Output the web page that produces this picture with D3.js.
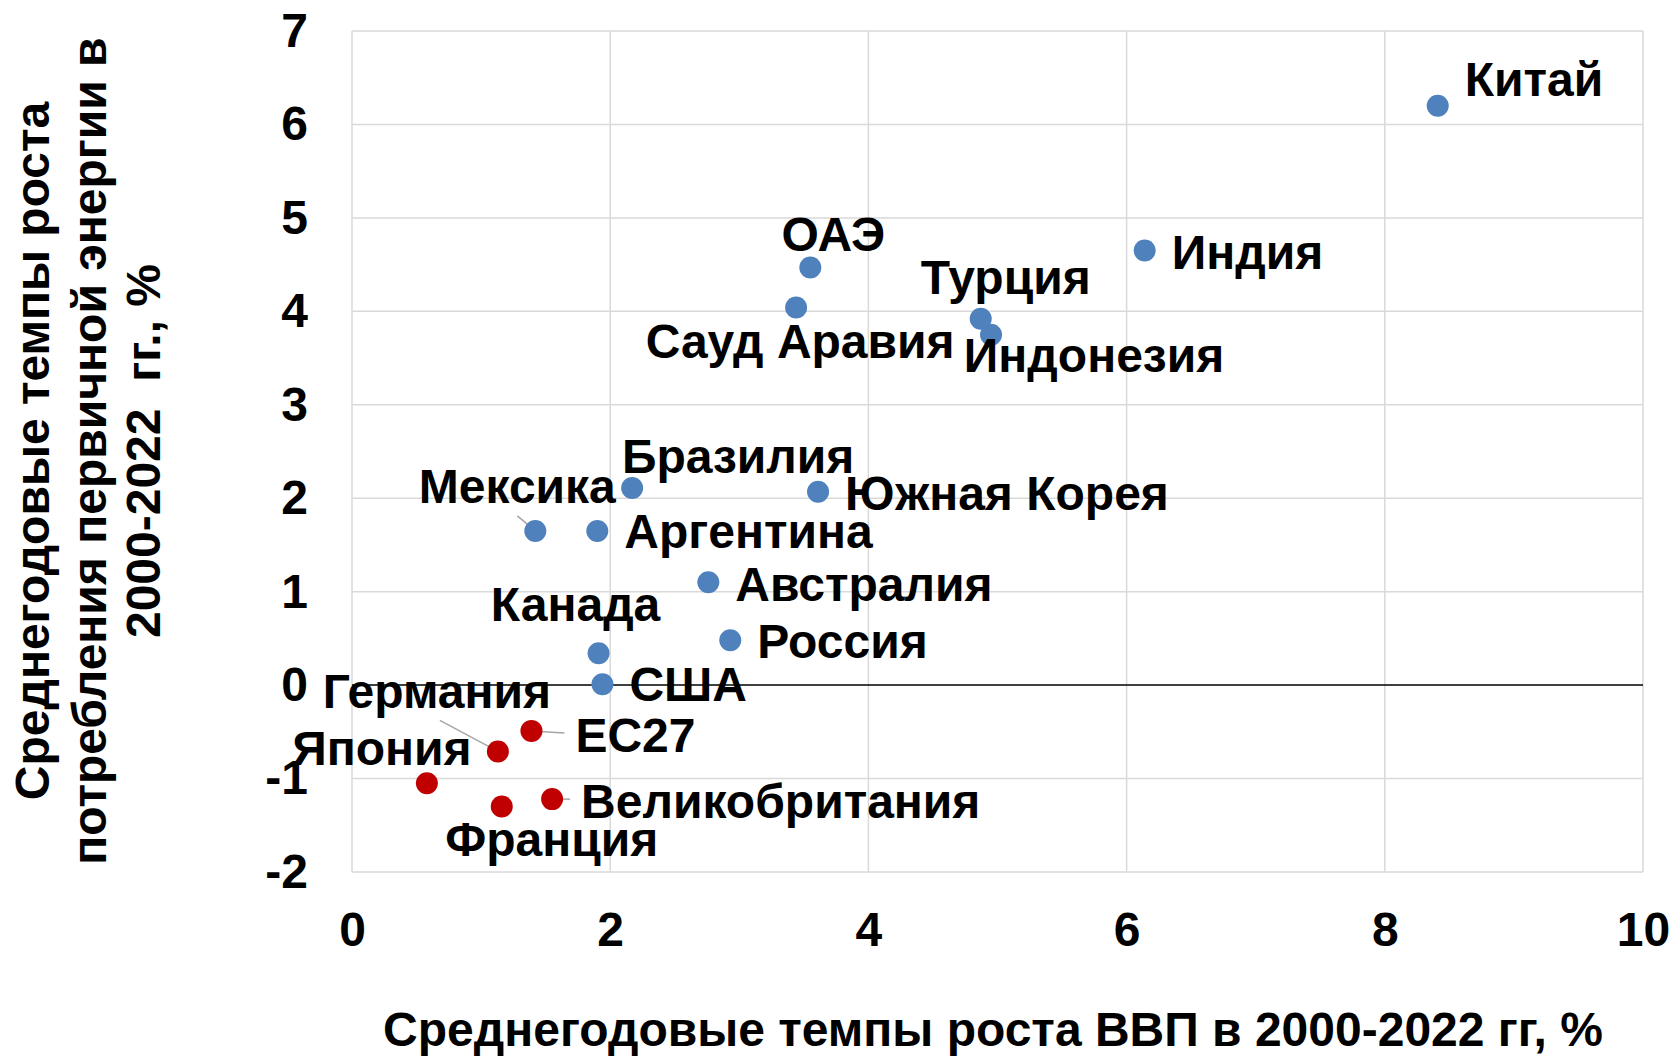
<!DOCTYPE html>
<html><head><meta charset="utf-8">
<script src="https://cdn.jsdelivr.net/npm/d3@7"></script>
<style>body{margin:0;background:#fff}svg{display:block}text{font-family:"Liberation Sans",Arial,sans-serif;font-weight:bold;fill:#000;white-space:pre}</style>
</head><body>
<script>
const countries = ["Китай","Индия","ОАЭ","Сауд Аравия","Турция","Индонезия","Бразилия","Южная Корея","Мексика","Аргентина","Австралия","Россия","Канада","США","ЕС27","Германия","Япония","Франция","Великобритания"];
const gdpGrowth = [8.41,6.14,3.55,3.44,4.87,4.95,2.17,3.61,1.42,1.90,2.76,2.93,1.91,1.94,1.39,1.13,0.58,1.16,1.55];
const energyGrowth = [6.20,4.65,4.47,4.04,3.92,3.75,2.11,2.07,1.65,1.65,1.10,0.48,0.34,0.01,-0.49,-0.71,-1.05,-1.30,-1.22];
const xTicks = [0,2,4,6,8,10];
const yTicks = [-2,-1,0,1,2,3,4,5,6,7];
const xTitle = "Среднегодовые темпы роста ВВП в 2000-2022 гг, %";
const yTitleLines = ["Среднегодовые темпы роста","потребления первичной энергии в","2000-2022  гг., %"];

// label layout (pixel offsets from point): [dx, dy, anchor]
const labelLayout = {
 "Китай":[27,-26,"start"],"Индия":[27,2,"start"],"ОАЭ":[23,-33,"middle"],"Сауд Аравия":[4,34,"middle"],
 "Турция":[25,-41,"middle"],"Индонезия":[103,21,"middle"],"Бразилия":[106,-31,"middle"],"Южная Корея":[27,2,"start"],
 "Мексика":[-18,-44,"middle"],"Аргентина":[27,1,"start"],"Австралия":[27,2,"start"],"Россия":[27,1,"start"],
 "Канада":[-23,-49,"middle"],"США":[27,0,"start"],"ЕС27":[44,5,"start"],"Германия":[-61,-60,"middle"],
 "Япония":[-45,-35,"middle"],"Франция":[50,33,"middle"],"Великобритания":[29,2,"start"]
};
const leaders = {"Мексика":[-18,-15],"Германия":[-58,-31],"ЕС27":[33,2],"Великобритания":[18,0]};

const FS=48;
const W=1675,H=1058;
const x=d3.scaleLinear().domain([0,10]).range([352,1643]);
const y=d3.scaleLinear().domain([-2,7]).range([872,31]);
const svg=d3.select("body").append("svg").attr("width",W).attr("height",H);

// grid
svg.append("g").selectAll("line").data(xTicks).join("line")
 .attr("x1",d=>x(d)).attr("x2",d=>x(d)).attr("y1",y(7)).attr("y2",y(-2))
 .attr("stroke","#d9d9d9").attr("stroke-width",1.5);
svg.append("g").selectAll("line").data(yTicks.filter(d=>d!==0)).join("line")
 .attr("x1",x(0)).attr("x2",x(10)).attr("y1",d=>y(d)).attr("y2",d=>y(d))
 .attr("stroke","#d9d9d9").attr("stroke-width",1.5);
svg.append("line").attr("x1",x(0)).attr("x2",x(10)).attr("y1",y(0)).attr("y2",y(0)).attr("stroke","#000").attr("stroke-width",1.5);

// axes
const xAxis=svg.append("g").attr("transform",`translate(0,${y(-2)})`).call(d3.axisBottom(x).tickValues(xTicks).tickFormat(d=>String(d)).tickSize(0).tickPadding(40));
xAxis.select(".domain").remove();
xAxis.selectAll("text").attr("font-size",FS).attr("font-family","Liberation Sans, Arial").attr("font-weight","bold").attr("fill","#000");
const yAxis=svg.append("g").attr("transform",`translate(${x(0)},0)`).call(d3.axisLeft(y).tickValues(yTicks).tickFormat(d=>String(d)).tickSize(0).tickPadding(44));
yAxis.select(".domain").remove();
yAxis.selectAll("text").attr("font-size",FS).attr("font-family","Liberation Sans, Arial").attr("font-weight","bold").attr("fill","#000");

// titles
svg.append("text").attr("x",993).attr("y",1046).attr("text-anchor","middle").attr("font-size",FS).text(xTitle);
const yt=svg.append("text").attr("transform","translate(0,451) rotate(-90)").attr("text-anchor","middle").attr("font-size",FS);
const ytX=[49,106,160];
yTitleLines.forEach((l,i)=>yt.append("tspan").attr("x",0).attr("y",ytX[i]).text(l));

const data=countries.map((c,i)=>({c,gx:gdpGrowth[i],ey:energyGrowth[i]}));

// leaders
svg.append("g").selectAll("line").data(data.filter(d=>leaders[d.c])).join("line")
 .attr("x1",d=>x(d.gx)).attr("y1",d=>y(d.ey))
 .attr("x2",d=>x(d.gx)+leaders[d.c][0]).attr("y2",d=>y(d.ey)+leaders[d.c][1])
 .attr("stroke","#a6a6a6").attr("stroke-width",1.5);

// points
svg.append("g").selectAll("circle").data(data).join("circle")
 .attr("cx",d=>x(d.gx)).attr("cy",d=>y(d.ey)).attr("r",11)
 .attr("fill",d=>d.ey<0?"#C00000":"#4F81BD");

// labels
svg.append("g").selectAll("text").data(data).join("text")
 .attr("x",d=>x(d.gx)+labelLayout[d.c][0]).attr("y",d=>y(d.ey)+labelLayout[d.c][1])
 .attr("text-anchor",d=>labelLayout[d.c][2]).attr("dominant-baseline","central")
 .attr("font-size",FS).text(d=>d.c);
</script>
</body></html>
